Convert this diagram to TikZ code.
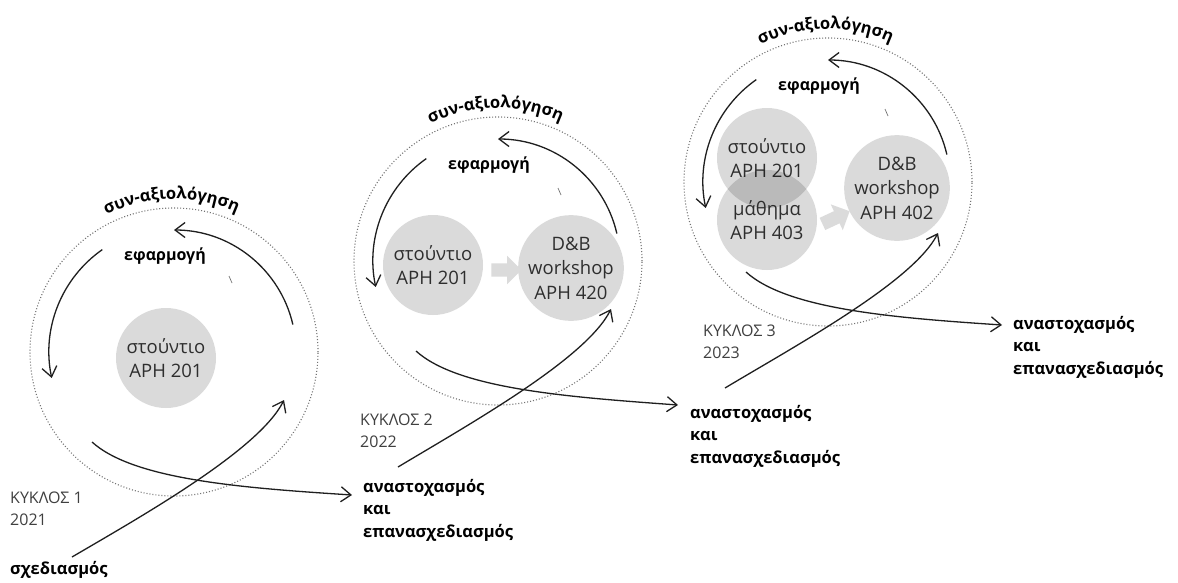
\documentclass[tikz,border=0pt]{standalone}
\usepackage{fontspec}
\setmainfont{Open Sans}
\usetikzlibrary{arrows.meta,decorations.text,shapes.arrows}
\begin{document}
\begin{tikzpicture}[x=1pt,y=1pt,
 flow/.style={line width=1.3pt, draw=black!88, -{Straight Barb[length=10pt,width=15pt]}},
 ring/.style={circle, draw=black!55, line width=1.1pt, dash pattern=on 1pt off 2pt, minimum size=288pt, inner sep=0pt},
 course/.style={circle, fill=black, fill opacity=0.145, text opacity=1, minimum size=100pt, inner sep=0pt, align=center, text=black!82, font=\fontsize{18.5}{24.5}\selectfont},
 blockarrow/.style={single arrow, fill=black!14, draw=none, minimum height=30pt, inner sep=0pt, inner ysep=6.5pt, single arrow head extend=7.5pt},
 stage/.style={font=\bfseries\fontsize{16.5}{22.5}\selectfont, align=left, anchor=west, inner sep=0pt, text=black},
 cyclab/.style={font=\fontsize{16}{22}\selectfont, align=left, anchor=west, inner sep=0pt, text=black!75},
 apply/.style={font=\bfseries\fontsize{16}{16}\selectfont, inner sep=0pt, text=black},
 review/.style={decorate, decoration={text along path, text align=center, text={|\bfseries\fontsize{16.5}{16.5}\selectfont|συν-αξιολόγηση}}},
 tick/.style={draw=black!55, line width=0.7pt},
]
\fill[white] (0,0) rectangle (1178,-582);
\useasboundingbox (0,0) rectangle (1178,-582);

% ---------------- cycle 1 ----------------
\begin{scope}[shift={(174,-352)}]
 \node[course] (c1a) at (-8,-6) {στούντιο\\ΑΡΗ 201};
 \node[ring] (ring1) at (0,0) {};
 \path[review] (128:153) arc[start angle=128, end angle=54, radius=153];
 \node[apply] (app1) at (-9,96) {εφαρμογή};
 \coordinate (t1s) at (13:122);
 \draw[flow] (t1s) arc[start angle=13, end angle=90, radius=122];
 \coordinate (l1s) at (125:125);
 \draw[flow] (l1s) arc[start angle=125, end angle=192, radius=125];
 \coordinate (k1a) at (55,76); \coordinate (k1b) at (58,69);
 \draw[tick] (k1a) -- (k1b);
 \coordinate (r1s) at (-82,-90);
 \coordinate (r1e) at (178,-143);
 \coordinate (u1s) at (-102,-205);
 \coordinate (u1e) at (110,-48);
 \draw[flow] (r1s) .. controls (-40,-128) and (70,-136) .. (r1e);
 \draw[flow] (u1s) .. controls (-32,-164) and (85,-98) .. (u1e);
\end{scope}

% ---------------- cycle 2 ----------------
\begin{scope}[shift={(498,-261)}]
 \node[course] (c2a) at (-65,-4) {στούντιο\\ΑΡΗ 201};
 \node[course] (c2b) at (73,-7) {D\&B\\workshop\\ΑΡΗ 420};
 \node[blockarrow] (b2) at (5,-9) {};
 \node[ring] (ring2) at (0,0) {};
 \path[review] (128:153) arc[start angle=128, end angle=54, radius=153];
 \node[apply] (app2) at (-9,96) {εφαρμογή};
 \coordinate (t2s) at (13:122);
 \draw[flow] (t2s) arc[start angle=13, end angle=90, radius=122];
 \coordinate (l2s) at (125:125);
 \draw[flow] (l2s) arc[start angle=125, end angle=192, radius=125];
 \coordinate (k2a) at (60,73); \coordinate (k2b) at (63,66);
 \draw[tick] (k2a) -- (k2b);
 \coordinate (r2s) at (-82,-90);
 \coordinate (r2e) at (180,-144);
 \coordinate (u2s) at (-100,-206);
 \coordinate (u2e) at (113,-48);
 \draw[flow] (r2s) .. controls (-40,-128) and (70,-136) .. (r2e);
 \draw[flow] (u2s) .. controls (-30,-164) and (88,-98) .. (u2e);
\end{scope}

% ---------------- cycle 3 ----------------
\begin{scope}[shift={(828,-182)}]
 \node[course] (c3a) at (-61,24) {στούντιο\\ΑΡΗ 201};
 \node[course] (c3b) at (-61,-38) {μάθημα\\ΑΡΗ 403};
 \node[course] (c3c) at (69,-6) {D\&B\\workshop\\ΑΡΗ 402};
 \node[blockarrow, rotate=25] (b3) at (5,-37) {};
 \node[ring] (ring3) at (0,0) {};
 \path[review] (128:153) arc[start angle=128, end angle=54, radius=153];
 \node[apply] (app3) at (-9,96) {εφαρμογή};
 \coordinate (t3s) at (13:122);
 \draw[flow] (t3s) arc[start angle=13, end angle=90, radius=122];
 \coordinate (l3s) at (125:125);
 \draw[flow] (l3s) arc[start angle=125, end angle=192, radius=125];
 \coordinate (k3a) at (57,73); \coordinate (k3b) at (60,66);
 \draw[tick] (k3a) -- (k3b);
 \coordinate (r3s) at (-82,-90);
 \coordinate (r3e) at (174,-143);
 \coordinate (u3s) at (-103,-206);
 \coordinate (u3e) at (110,-51);
 \draw[flow] (r3s) .. controls (-40,-128) and (70,-136) .. (r3e);
 \draw[flow] (u3s) .. controls (-33,-164) and (85,-100) .. (u3e);
\end{scope}

% ---------------- labels ----------------
\node[stage] (plan) at (10,-570) {σχεδιασμός};
\node[cyclab] (cy1) at (10,-509) {ΚΥΚΛΟΣ 1\\2021};
\node[cyclab] (cy2) at (360,-431) {ΚΥΚΛΟΣ 2\\2022};
\node[cyclab] (cy3) at (703,-342) {ΚΥΚΛΟΣ 3\\2023};
\node[stage] (refl1) at (363,-510) {αναστοχασμός\\και\\επανασχεδιασμός};
\node[stage] (refl2) at (690,-436) {αναστοχασμός\\και\\επανασχεδιασμός};
\node[stage] (refl3) at (1013,-347) {αναστοχασμός\\και\\επανασχεδιασμός};
\end{tikzpicture}
\end{document}
